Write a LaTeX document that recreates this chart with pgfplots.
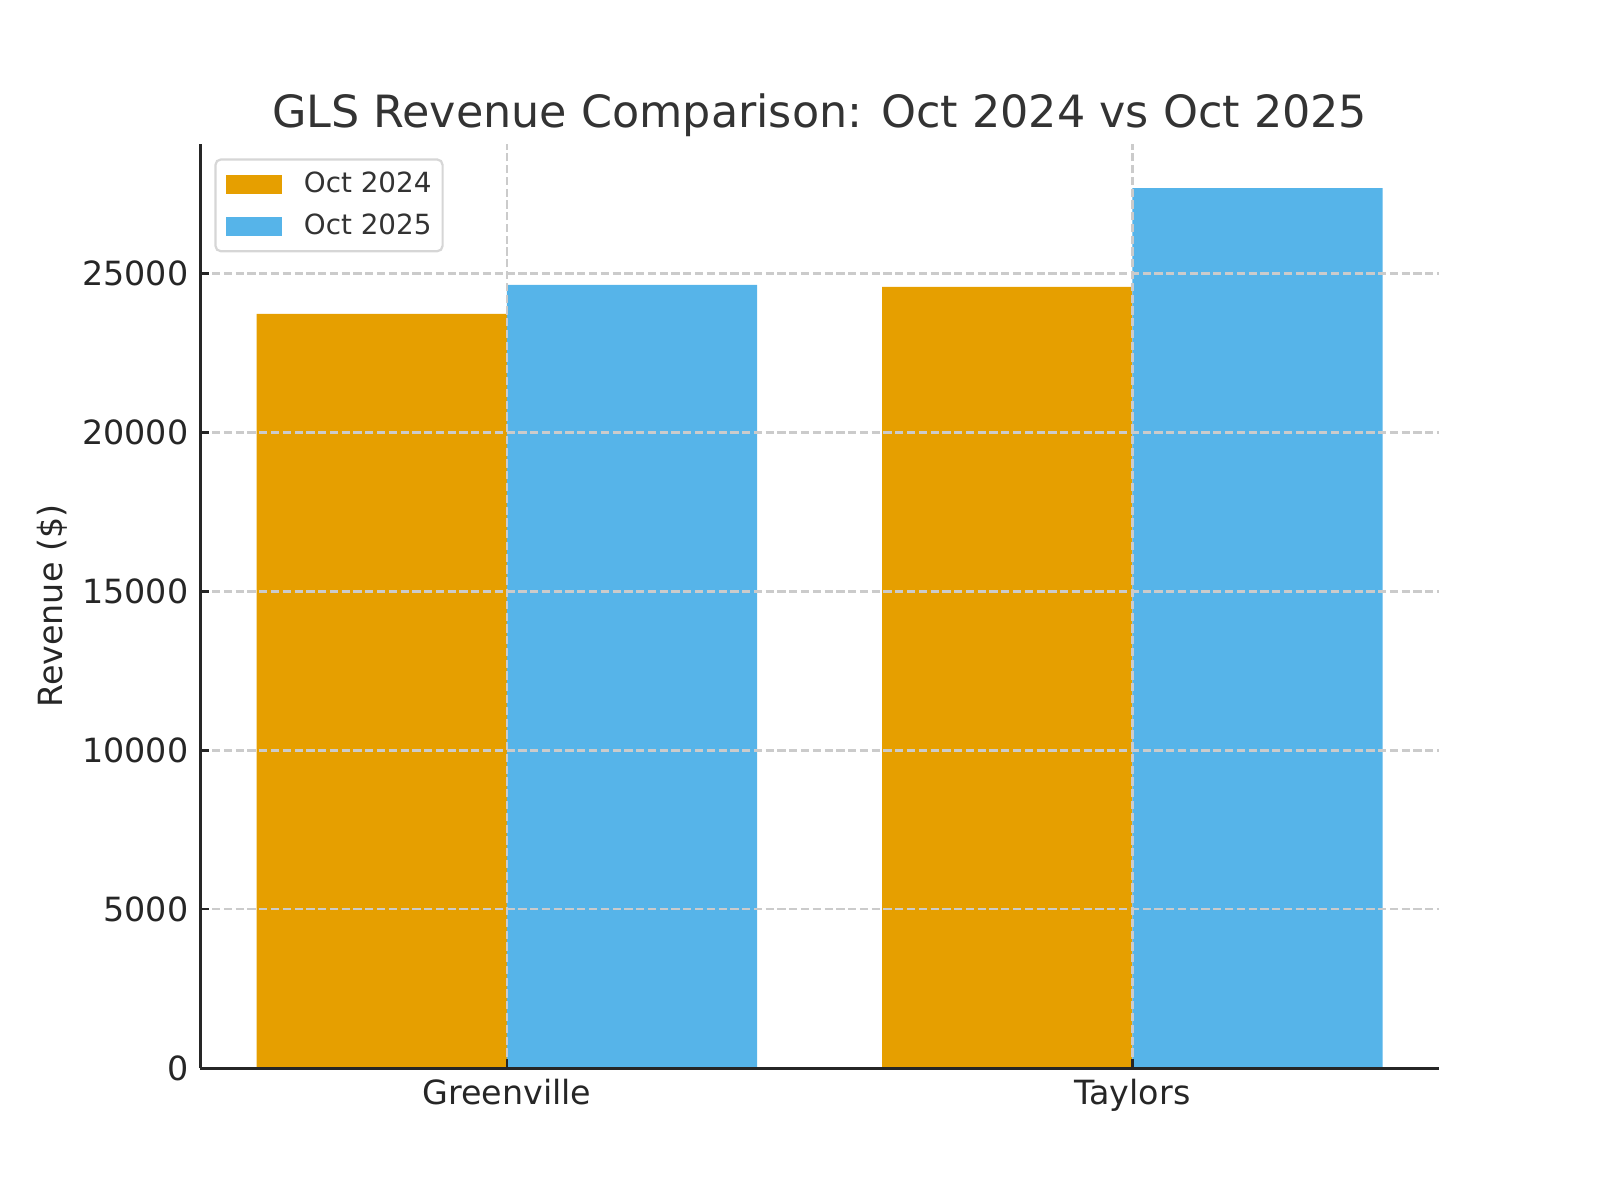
\documentclass[border=0pt]{standalone}
\usepackage{fontspec}
\setmainfont{DejaVu Sans}
\usepackage{pgfplots}
\usepackage{pgfplotstable}
\pgfplotsset{compat=1.18}

\definecolor{okorange}{HTML}{E69F00}
\definecolor{okblue}{HTML}{56B4E9}
\definecolor{spine}{HTML}{262626}
\definecolor{txt}{HTML}{333333}
\definecolor{gridc}{HTML}{CBCBCB}
\definecolor{legendc}{HTML}{D6D6D6}

% revenue in $, x = category index
\pgfplotstableread{
x  oct24  oct25
0  23730  24640
1  24580  27690
}\revenue

\pgfplotsset{
  patchlegend/.style={legend image code/.code={%
    \fill[##1,sharp corners] (0pt,-3.45pt) rectangle (20.2pt,3.45pt);}},
  every axis title/.style={at={(axis description cs:0.5,1)}, anchor=base,
    yshift=5.8pt, inner sep=0pt},
}

\begin{document}
\begin{tikzpicture}
\path[use as bounding box] (-72.38pt,-47.59pt) rectangle (505.78pt,386.03pt);
\begin{axis}[
  at={(0pt,0pt)}, anchor=south west,
  scale only axis,
  width=447.6pt, height=334.0pt,
  xmin=-0.49, xmax=1.49,
  ymin=0, ymax=29075,
  axis x line*=bottom, axis y line*=left,
  axis on top,
  axis line style={spine, line width=1bp},
  tick align=inside,
  major tick length=3.25pt,
  tick style={spine, line width=0.8bp},
  xtick={0,1},
  xticklabels={Greenville,Taylors},
  ytick={0,5000,10000,15000,20000,25000},
  scaled y ticks=false,
  /pgf/number format/.cd, 1000 sep={}, assume math mode=true, /pgfplots/.cd,
  ticklabel style={font=\fontsize{12.05pt}{14pt}\selectfont, text=spine},
  yticklabel style={anchor=east, inner sep=0pt, xshift=-4.1pt},
  xticklabel style={anchor=base, inner sep=0pt, yshift=-13pt},
  xmajorgrids, ymajorgrids,
  major grid style={gridc, line width=0.8bp, dash pattern=on 2.96bp off 1.28bp},
  title={GLS Revenue Comparison: Oct 2024 vs Oct 2025},
  title style={font=\fontsize{16.06pt}{19pt}\selectfont, text=txt},
  ylabel={Revenue (\$)},
  ylabel style={at={(axis description cs:-0.1193,0.5)}, anchor=center,
    inner sep=0pt, font=\fontsize{12.05pt}{14pt}\selectfont, text=spine},
  legend cell align=left,
  legend style={at={(axis description cs:0.0113,0.9845)}, anchor=north west,
    draw=legendc, line width=0.8bp, rounded corners=2pt, fill=white,
    font=\fontsize{10.04pt}{12pt}\selectfont, text=txt,
    inner xsep=4pt, inner ysep=4.6pt, row sep=6.1pt,
    nodes={inner sep=0pt},
    /tikz/every odd column/.append style={column sep=7.8pt}},
]
\addplot[ybar, bar width=0.4, bar shift=-0.2, fill=okorange, draw=none, patchlegend]
  table[x=x, y=oct24] {\revenue};
\addlegendentry{Oct 2024}
\addplot[ybar, bar width=0.4, bar shift=0.2, fill=okblue, draw=none, patchlegend]
  table[x=x, y=oct25] {\revenue};
\addlegendentry{Oct 2025}
\end{axis}
\end{tikzpicture}
\end{document}
